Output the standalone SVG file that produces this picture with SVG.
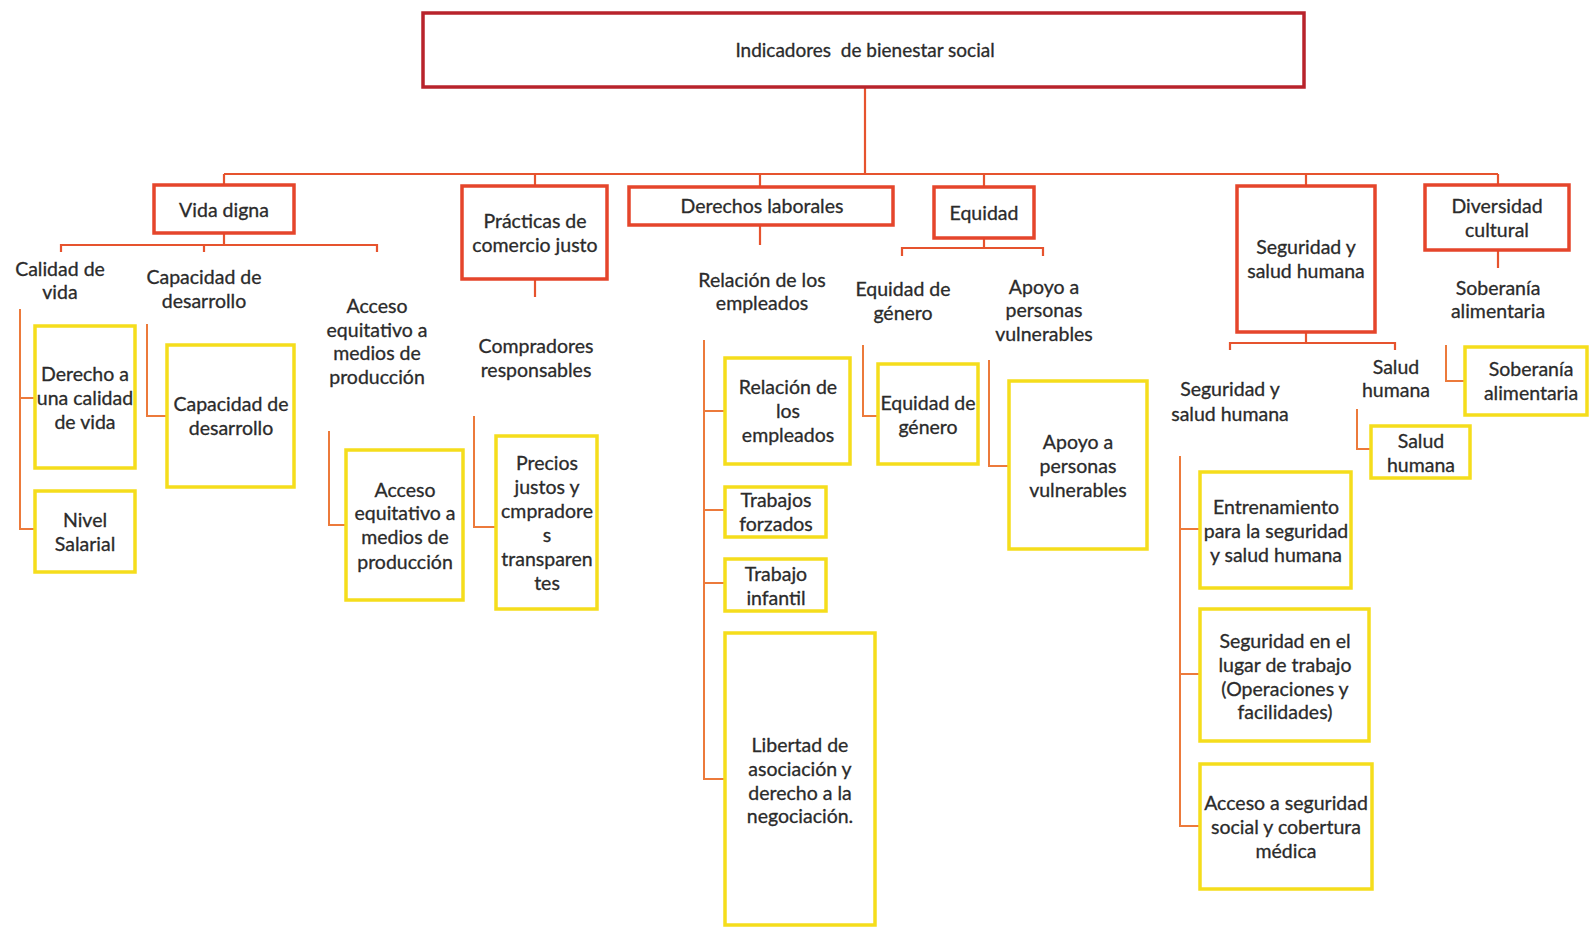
<svg xmlns="http://www.w3.org/2000/svg" width="1590" height="927" viewBox="0 0 1590 927">
  <style>
    text { font-family: Lato, "Open Sans", "Liberation Sans", sans-serif; font-size: 19.5px; fill: #2b2b2b; stroke: #2b2b2b; stroke-width: 0.3; text-anchor: middle; dominant-baseline: central; }
    .title { font-size: 19px; }
    .top { fill: #fff; stroke: #b8232b; stroke-width: 3.5; }
    .cat { fill: #fff; stroke: #e5452b; stroke-width: 3.5; }
    .leaf { fill: #fff; stroke: #f5dd1c; stroke-width: 3.5; }
    .conn { fill: none; stroke: #e6532e; stroke-width: 2.2; }
    .sub { fill: none; stroke: #ec7a3b; stroke-width: 2; }
  </style>
  <rect width="1590" height="927" fill="#fff"/>

  <!-- connectors -->
  <g id="connectors">
    <path class="conn" d="M865 87 V174 M224 174 H1498 M224 174 V185 M535 174 V186 M760 174 V187 M984 174 V187 M1306 174 V186 M1498 174 V185"/>
    <!-- Vida digna -->
    <path class="conn" d="M224 233 V245 M61 252 V245 H377 V252 M204 245 V252"/>
    <!-- Prácticas de comercio justo -->
    <path class="conn" d="M535 279 V297"/>
    <!-- Derechos laborales -->
    <path class="conn" d="M760 225 V245"/>
    <!-- Equidad -->
    <path class="conn" d="M984 238 V248 M902 256 V248 H1043 V256"/>
    <!-- Seguridad y salud humana -->
    <path class="conn" d="M1306 332 V343 M1230 350 V343 H1395 V350"/>
    <!-- Diversidad cultural -->
    <path class="conn" d="M1498 250 V268"/>

    <!-- leaf branches -->
    <path class="sub" d="M20 309 V529 H35 M20 398 H35"/>
    <path class="sub" d="M147 324 V416 H167"/>
    <path class="sub" d="M329 431 V525 H346"/>
    <path class="sub" d="M474 416 V527 H496"/>
    <path class="sub" d="M704 340 V779 H725 M704 411 H725 M704 510 H725 M704 583 H725"/>
    <path class="sub" d="M863 345 V416 H878"/>
    <path class="sub" d="M989 360 V466 H1009"/>
    <path class="sub" d="M1180 456 V826 H1200 M1180 529 H1200 M1180 674 H1200"/>
    <path class="sub" d="M1357 409 V449 H1371"/>
    <path class="sub" d="M1446 345 V381 H1465"/>
  </g>

  <!-- root -->
  <g id="root">
    <rect class="top" x="423" y="13" width="881" height="74"/>
    <text class="title" x="865" y="49">Indicadores&#160; de bienestar social</text>
  </g>

  <!-- categories -->
  <g id="vida-digna">
    <rect class="cat" x="154" y="185" width="140" height="48"/>
    <text x="224" y="209">Vida digna</text>
  </g>
  <g id="practicas">
    <rect class="cat" x="462" y="186" width="145" height="93"/>
    <text x="535" y="220">Prácticas de</text>
    <text x="535" y="244">comercio justo</text>
  </g>
  <g id="derechos-laborales">
    <rect class="cat" x="629" y="187" width="264" height="38"/>
    <text x="762" y="205">Derechos laborales</text>
  </g>
  <g id="equidad">
    <rect class="cat" x="934" y="187" width="100" height="51"/>
    <text x="984" y="212">Equidad</text>
  </g>
  <g id="seguridad">
    <rect class="cat" x="1237" y="186" width="138" height="146"/>
    <text x="1306" y="246">Seguridad y</text>
    <text x="1306" y="270">salud humana</text>
  </g>
  <g id="diversidad">
    <rect class="cat" x="1425" y="185" width="144" height="65"/>
    <text x="1497" y="205">Diversidad</text>
    <text x="1497" y="229">cultural</text>
  </g>

  <!-- sub-indicator labels -->
  <g id="calidad-de-vida">
    <text x="60" y="268">Calidad de</text>
    <text x="60" y="291">vida</text>
  </g>
  <g id="capacidad-de-desarrollo">
    <text x="204" y="276">Capacidad de</text>
    <text x="204" y="300">desarrollo</text>
  </g>
  <g id="acceso-equitativo">
    <text x="377" y="305">Acceso</text>
    <text x="377" y="329">equitativo a</text>
    <text x="377" y="352">medios de</text>
    <text x="377" y="376">producción</text>
  </g>
  <g id="compradores">
    <text x="536" y="345">Compradores</text>
    <text x="536" y="369">responsables</text>
  </g>
  <g id="relacion-empleados">
    <text x="762" y="279">Relación de los</text>
    <text x="762" y="302">empleados</text>
  </g>
  <g id="equidad-genero">
    <text x="903" y="288">Equidad de</text>
    <text x="903" y="312">género</text>
  </g>
  <g id="apoyo-vulnerables">
    <text x="1044" y="286">Apoyo a</text>
    <text x="1044" y="309">personas</text>
    <text x="1044" y="333">vulnerables</text>
  </g>
  <g id="seguridad-salud">
    <text x="1230" y="388">Seguridad y</text>
    <text x="1230" y="413">salud humana</text>
  </g>
  <g id="salud-humana">
    <text x="1396" y="366">Salud</text>
    <text x="1396" y="389">humana</text>
  </g>
  <g id="soberania">
    <text x="1498" y="287">Soberanía</text>
    <text x="1498" y="310">alimentaria</text>
  </g>

  <!-- leaf boxes -->
  <g id="leaf-derecho-calidad">
    <rect class="leaf" x="35" y="326" width="100" height="142"/>
    <text x="85" y="373">Derecho a</text>
    <text x="85" y="397">una calidad</text>
    <text x="85" y="421">de vida</text>
  </g>
  <g id="leaf-nivel-salarial">
    <rect class="leaf" x="35" y="491" width="100" height="81"/>
    <text x="85" y="519">Nivel</text>
    <text x="85" y="543">Salarial</text>
  </g>
  <g id="leaf-capacidad">
    <rect class="leaf" x="167" y="345" width="127" height="142"/>
    <text x="231" y="403">Capacidad de</text>
    <text x="231" y="427">desarrollo</text>
  </g>
  <g id="leaf-acceso">
    <rect class="leaf" x="346" y="450" width="117" height="150"/>
    <text x="405" y="489">Acceso</text>
    <text x="405" y="512">equitativo a</text>
    <text x="405" y="536">medios de</text>
    <text x="405" y="561">producción</text>
  </g>
  <g id="leaf-precios">
    <rect class="leaf" x="496" y="436" width="101" height="173"/>
    <text x="547" y="462">Precios</text>
    <text x="547" y="486">justos y</text>
    <text x="547" y="510">cmpradore</text>
    <text x="547" y="534">s</text>
    <text x="547" y="558">transparen</text>
    <text x="547" y="582">tes</text>
  </g>
  <g id="leaf-relacion">
    <rect class="leaf" x="725" y="358" width="125" height="106"/>
    <text x="788" y="386">Relación de</text>
    <text x="788" y="410">los</text>
    <text x="788" y="434">empleados</text>
  </g>
  <g id="leaf-forzados">
    <rect class="leaf" x="725" y="487" width="101" height="50"/>
    <text x="776" y="499">Trabajos</text>
    <text x="776" y="523">forzados</text>
  </g>
  <g id="leaf-infantil">
    <rect class="leaf" x="725" y="559" width="101" height="52"/>
    <text x="776" y="573">Trabajo</text>
    <text x="776" y="597">infantil</text>
  </g>
  <g id="leaf-libertad">
    <rect class="leaf" x="725" y="633" width="150" height="292"/>
    <text x="800" y="744">Libertad de</text>
    <text x="800" y="768">asociación y</text>
    <text x="800" y="792">derecho a la</text>
    <text x="800" y="815">negociación.</text>
  </g>
  <g id="leaf-equidad-genero">
    <rect class="leaf" x="878" y="364" width="100" height="100"/>
    <text x="928" y="402">Equidad de</text>
    <text x="928" y="426">género</text>
  </g>
  <g id="leaf-apoyo">
    <rect class="leaf" x="1009" y="381" width="138" height="168"/>
    <text x="1078" y="441">Apoyo a</text>
    <text x="1078" y="465">personas</text>
    <text x="1078" y="489">vulnerables</text>
  </g>
  <g id="leaf-entrenamiento">
    <rect class="leaf" x="1200" y="472" width="151" height="116"/>
    <text x="1276" y="506">Entrenamiento</text>
    <text x="1276" y="530">para la seguridad</text>
    <text x="1276" y="554">y salud humana</text>
  </g>
  <g id="leaf-seguridad-lugar">
    <rect class="leaf" x="1200" y="609" width="169" height="132"/>
    <text x="1285" y="640">Seguridad en el</text>
    <text x="1285" y="664">lugar de trabajo</text>
    <text x="1285" y="688">(Operaciones y</text>
    <text x="1285" y="711">facilidades)</text>
  </g>
  <g id="leaf-acceso-seguridad">
    <rect class="leaf" x="1200" y="764" width="172" height="125"/>
    <text x="1286" y="802">Acceso a seguridad</text>
    <text x="1286" y="826">social y cobertura</text>
    <text x="1286" y="850">médica</text>
  </g>
  <g id="leaf-salud-humana">
    <rect class="leaf" x="1371" y="426" width="99" height="52"/>
    <text x="1421" y="440">Salud</text>
    <text x="1421" y="464">humana</text>
  </g>
  <g id="leaf-soberania">
    <rect class="leaf" x="1465" y="347" width="122" height="68"/>
    <text x="1531" y="368">Soberanía</text>
    <text x="1531" y="392">alimentaria</text>
  </g>
</svg>
